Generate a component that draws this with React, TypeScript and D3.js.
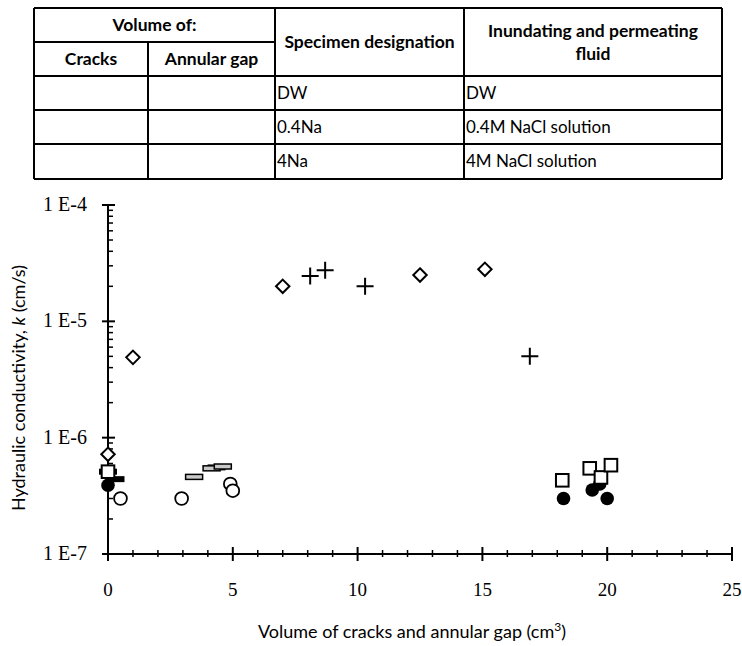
import * as d3 from "d3"
import { useLayoutEffect, useRef } from "react"

// table rows
const specimens = ["DW", "0.4Na", "4Na"]
const fluids = ["DW", "0.4M NaCl solution", "4M NaCl solution"]

// scatter series, x = volume (cm3), k = hydraulic conductivity (cm/s)
const diamondX = [0, 1.0, 7.0, 12.5, 15.1]
const diamondK = [7.2e-7, 4.9e-6, 2.0e-5, 2.5e-5, 2.8e-5]
const plusX = [8.1, 8.7, 10.3, 16.9]
const plusK = [2.45e-5, 2.75e-5, 2.0e-5, 5.0e-6]
const openCircleX = [0.5, 2.95, 4.9, 5.0]
const openCircleK = [3.0e-7, 3.0e-7, 4.0e-7, 3.5e-7]
const filledCircleX = [0, 18.25, 19.4, 19.7, 20.0]
const filledCircleK = [3.9e-7, 3.0e-7, 3.55e-7, 4.0e-7, 3.0e-7]
const openSquareX = [0, 18.2, 19.3, 19.75, 20.15]
const openSquareK = [5.1e-7, 4.3e-7, 5.45e-7, 4.55e-7, 5.8e-7]
const openDashX = [3.45, 4.15, 4.6]
const openDashK = [4.6e-7, 5.45e-7, 5.65e-7]
const filledDashX = [0, 0.3, 4.35]
const filledDashK = [5.1e-7, 4.4e-7, 5.55e-7]

const xTicks = [0, 5, 10, 15, 20, 25]
const yTicks = [1e-4, 1e-5, 1e-6, 1e-7]
const yTickLabels = ["1 E-4", "1 E-5", "1 E-6", "1 E-7"]

const FONT = "Lato, 'Open Sans', sans-serif"
const TICK_FONT = "'Liberation Serif', serif"

export default function App() {
  const ref = useRef<SVGSVGElement>(null)

  useLayoutEffect(() => {
    if (!ref.current) return
    const svg = d3.select(ref.current)
    svg.selectAll("*").remove()

    // ---- table ----
    const tbl = svg.append("g")
    const colX = [34, 148, 275, 464, 722]
    const rowY = [8, 42, 76, 110, 144, 179]
    const line = (x1: number, y1: number, x2: number, y2: number) =>
      tbl.append("line").attr("x1", x1).attr("y1", y1).attr("x2", x2).attr("y2", y2)
        .attr("stroke", "#000").attr("stroke-width", 2)

    line(colX[0], rowY[0], colX[4], rowY[0])
    line(colX[0], rowY[1], colX[2], rowY[1])
    for (let i = 2; i < rowY.length; i++) line(colX[0], rowY[i], colX[4], rowY[i])
    line(colX[0], rowY[0], colX[0], rowY[5])
    line(colX[1], rowY[1], colX[1], rowY[5])
    line(colX[2], rowY[0], colX[2], rowY[5])
    line(colX[3], rowY[0], colX[3], rowY[5])
    line(colX[4], rowY[0], colX[4], rowY[5])

    const txt = (x: number, y: number, s: string, bold: boolean, anchor = "middle") =>
      tbl.append("text").attr("x", x).attr("y", y).attr("text-anchor", anchor)
        .attr("font-family", FONT).attr("font-size", bold ? 17.5 : 17)
        .attr("font-weight", bold ? "bold" : "normal").text(s)

    txt((colX[0] + colX[2]) / 2, 31, "Volume of:", true)
    txt((colX[0] + colX[1]) / 2, 65, "Cracks", true)
    txt((colX[1] + colX[2]) / 2, 65, "Annular gap", true)
    txt((colX[2] + colX[3]) / 2, 48, "Specimen designation", true)
    txt((colX[3] + colX[4]) / 2, 37, "Inundating and permeating", true)
    txt((colX[3] + colX[4]) / 2, 60, "fluid", true)
    specimens.forEach((s, i) => {
      txt(colX[2] + 2, rowY[i + 2] + 23, s, false, "start")
      txt(colX[3] + 2, rowY[i + 2] + 23, fluids[i], false, "start")
    })

    // ---- chart ----
    const x = d3.scaleLinear().domain([0, 25]).range([108, 732])
    const y = d3.scaleLog().domain([1e-7, 1e-4]).range([554, 205])
    const g = svg.append("g")

    // minor y ticks
    const yMinor: number[] = []
    for (let e = -7; e < -4; e++) for (let m = 2; m <= 9; m++) yMinor.push(m * Math.pow(10, e))
    g.selectAll(".ymin").data(yMinor).enter().append("line")
      .attr("x1", 108).attr("x2", 113).attr("y1", (d) => y(d)).attr("y2", (d) => y(d))
      .attr("stroke", "#000").attr("stroke-width", 1.5)
    g.selectAll(".ymaj").data(yTicks).enter().append("line")
      .attr("x1", 102).attr("x2", 115).attr("y1", (d) => y(d)).attr("y2", (d) => y(d))
      .attr("stroke", "#000").attr("stroke-width", 2)
    g.selectAll(".ylab").data(yTicks).enter().append("text")
      .attr("x", 87).attr("y", (d) => y(d) + 6).attr("text-anchor", "end")
      .attr("font-family", TICK_FONT).attr("font-size", 20).text((_, i) => yTickLabels[i])

    // x ticks
    const xMinor = d3.range(0, 26).filter((v) => v % 5 !== 0)
    g.selectAll(".xmin").data(xMinor).enter().append("line")
      .attr("x1", (d) => x(d)).attr("x2", (d) => x(d)).attr("y1", 550).attr("y2", 557)
      .attr("stroke", "#000").attr("stroke-width", 1.5)
    g.selectAll(".xmaj").data(xTicks).enter().append("line")
      .attr("x1", (d) => x(d)).attr("x2", (d) => x(d)).attr("y1", 547).attr("y2", 561)
      .attr("stroke", "#000").attr("stroke-width", 2)
    g.selectAll(".xlab").data(xTicks).enter().append("text")
      .attr("x", (d) => x(d)).attr("y", 596).attr("text-anchor", "middle")
      .attr("font-family", TICK_FONT).attr("font-size", 19).text((d) => String(d))

    g.append("line").attr("x1", 108).attr("x2", 108).attr("y1", 205).attr("y2", 554)
      .attr("stroke", "#000").attr("stroke-width", 2)
    g.append("line").attr("x1", 108).attr("x2", 732).attr("y1", 554).attr("y2", 554)
      .attr("stroke", "#000").attr("stroke-width", 2)

    // axis titles
    const yt = g.append("text").attr("transform", "translate(25,388) rotate(-90)")
      .attr("text-anchor", "middle").attr("font-family", FONT).attr("font-size", 18)
    yt.append("tspan").text("Hydraulic conductivity, ")
    yt.append("tspan").attr("font-style", "italic").text("k")
    yt.append("tspan").text(" (cm/s)")

    const xt = g.append("text").attr("x", 412).attr("y", 638).attr("text-anchor", "middle")
      .attr("font-family", FONT).attr("font-size", 18)
    xt.append("tspan").text("Volume of cracks and annular gap (cm")
    xt.append("tspan").attr("font-size", 12).attr("dy", -7).text("3")
    xt.append("tspan").attr("dy", 7).text(")")

    const pts = (xs: number[], ks: number[]) => xs.map((v, i) => ({ x: v, k: ks[i] }))

    // filled dashes
    g.selectAll(".fdash").data(pts(filledDashX, filledDashK)).enter().append("rect")
      .attr("x", (d) => x(d.x) - 9).attr("y", (d) => y(d.k) - 3).attr("width", 18).attr("height", 6)
      .attr("fill", "#000")
    // filled circles
    g.selectAll(".fcirc").data(pts(filledCircleX, filledCircleK)).enter().append("circle")
      .attr("cx", (d) => x(d.x)).attr("cy", (d) => y(d.k)).attr("r", 6.8).attr("fill", "#000")
    // open squares
    g.selectAll(".sq").data(pts(openSquareX, openSquareK)).enter().append("rect")
      .attr("x", (d) => x(d.x) - 6.3).attr("y", (d) => y(d.k) - 6.3).attr("width", 12.6).attr("height", 12.6)
      .attr("fill", "#fff").attr("stroke", "#000").attr("stroke-width", 2)
    // open circles
    g.selectAll(".ocirc").data(pts(openCircleX, openCircleK)).enter().append("circle")
      .attr("cx", (d) => x(d.x)).attr("cy", (d) => y(d.k)).attr("r", 6.4)
      .attr("fill", "#fff").attr("stroke", "#000").attr("stroke-width", 1.8)
    // open dashes
    g.selectAll(".odash").data(pts(openDashX, openDashK)).enter().append("rect")
      .attr("x", (d) => x(d.x) - 8.5).attr("y", (d) => y(d.k) - 2.5).attr("width", 17).attr("height", 5)
      .attr("fill", "#c8c8c8").attr("stroke", "#000").attr("stroke-width", 1.5)
    // diamonds
    g.selectAll(".dia").data(pts(diamondX, diamondK)).enter().append("path")
      .attr("d", d3.symbol(d3.symbolDiamond2, 115)())
      .attr("transform", (d) => `translate(${x(d.x)},${y(d.k)})`)
      .attr("fill", "#fff").attr("stroke", "#000").attr("stroke-width", 2)
    // plus
    g.selectAll(".plus").data(pts(plusX, plusK)).enter().append("path")
      .attr("d", "M-8.5,0H8.5M0,-8.5V8.5")
      .attr("transform", (d) => `translate(${x(d.x)},${y(d.k)})`)
      .attr("stroke", "#000").attr("stroke-width", 2).attr("fill", "none")
  }, [])

  return (
    <svg ref={ref} width={742} height={646}
      style={{ position: "absolute", left: 0, top: 0, background: "#fff" }} />
  )
}
